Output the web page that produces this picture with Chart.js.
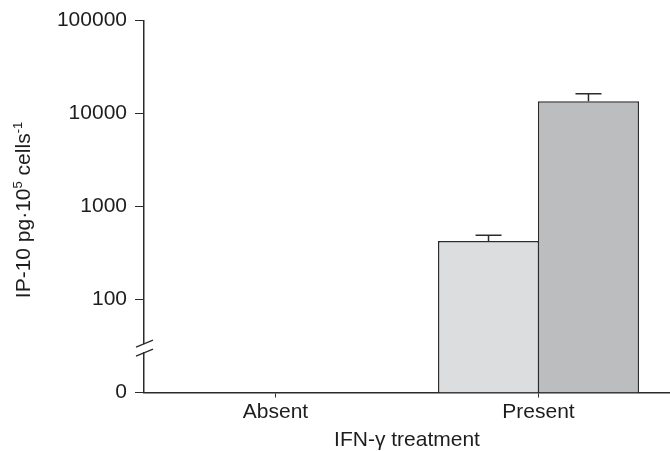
<!DOCTYPE html>
<html>
<head>
<meta charset="utf-8">
<script src="https://cdn.jsdelivr.net/npm/chart.js@4/dist/chart.umd.min.js"></script>
<style>
  html, body { margin: 0; padding: 0; background: #fff; }
  #wrap { width: 670px; height: 451px; position: relative; }
</style>
</head>
<body>
<div id="wrap"><canvas id="chart" width="670" height="451"></canvas></div>
<script>
// Categories and series
const CATEGORIES = ['Absent', 'Present'];
const SERIES_A = [null, 425];      // light bar
const SERIES_B = [null, 13600];    // dark bar
const ERROR_A = [null, 490];       // upper error, light bar
const ERROR_B = [null, 16300];     // upper error, dark bar
const Y_TICKS = [10, 100, 1000, 10000, 100000];
const Y_TICK_LABELS = ['0', '100', '1000', '10000', '100000'];
const BREAK_AT = 30;               // axis break sits between 0 and 100

const FONT = { family: "'Liberation Sans', Arial, sans-serif", size: 21 };
const INK = '#1f1c1d';
const LINE = '#2b2b2b';

// Upper error bars with caps
const errorBars = {
  id: 'errorBars',
  afterDatasetsDraw(chart) {
    const { ctx } = chart;
    const y = chart.scales.y;
    const errs = [ERROR_A, ERROR_B];
    ctx.save();
    ctx.strokeStyle = LINE;
    ctx.lineWidth = 1.5;
    chart.data.datasets.forEach((ds, di) => {
      const meta = chart.getDatasetMeta(di);
      meta.data.forEach((bar, i) => {
        const e = errs[di][i];
        if (e == null || ds.data[i] == null) return;
        const ye = y.getPixelForValue(e);
        ctx.beginPath();
        ctx.moveTo(bar.x, bar.y);
        ctx.lineTo(bar.x, ye);
        ctx.moveTo(bar.x - 13, ye);
        ctx.lineTo(bar.x + 13, ye);
        ctx.stroke();
      });
    });
    ctx.restore();
  }
};

// Axis break marks and the rotated y title with superscripts
const axisExtras = {
  id: 'axisExtras',
  afterDraw(chart) {
    const { ctx, chartArea } = chart;
    const y = chart.scales.y;
    const x0 = chartArea.left;
    const yb = y.getPixelForValue(BREAK_AT);
    ctx.save();
    ctx.fillStyle = '#fff';
    ctx.fillRect(x0 - 2, yb - 4, 4, 8);
    ctx.strokeStyle = LINE;
    ctx.lineWidth = 1.3;
    ctx.beginPath();
    ctx.moveTo(x0 - 8, yb - 1);
    ctx.lineTo(x0 + 9, yb - 8);
    ctx.moveTo(x0 - 8, yb + 8);
    ctx.lineTo(x0 + 9, yb + 1);
    ctx.stroke();

    // y title
    const parts = [
      { t: 'IP-10 pg\u00b710', s: 21, dy: 0 },
      { t: '5', s: 13, dy: -8 },
      { t: ' cells', s: 21, dy: 0 },
      { t: '-1', s: 13, dy: -8 }
    ];
    let total = 0;
    parts.forEach(p => {
      ctx.font = p.s + "px 'Liberation Sans', Arial, sans-serif";
      p.w = ctx.measureText(p.t).width;
      total += p.w;
    });
    ctx.translate(30, 210);
    ctx.rotate(-Math.PI / 2);
    ctx.fillStyle = INK;
    ctx.textBaseline = 'alphabetic';
    ctx.textAlign = 'left';
    let cx = -total / 2;
    parts.forEach(p => {
      ctx.font = p.s + "px 'Liberation Sans', Arial, sans-serif";
      ctx.fillText(p.t, cx, p.dy);
      cx += p.w;
    });
    ctx.restore();
  }
};

new Chart(document.getElementById('chart'), {
  type: 'bar',
  data: {
    labels: CATEGORIES,
    datasets: [
      {
        data: SERIES_A,
        backgroundColor: '#dcdddf',
        borderColor: LINE,
        borderWidth: 1.5,
        borderSkipped: 'bottom',
      },
      {
        data: SERIES_B,
        backgroundColor: '#bcbdbf',
        borderColor: LINE,
        borderWidth: 1.5,
        borderSkipped: 'bottom',
      },
    ],
  },
  options: {
    responsive: false,
    animation: false,
    layout: { padding: { top: 15, right: 0, bottom: 0, left: 0 } },
    datasets: { bar: { categoryPercentage: 0.76, barPercentage: 1.012 } },
    plugins: {
      legend: { display: false },
      tooltip: { enabled: false },
    },
    scales: {
      x: {
        grid: {
          offset: false,
          drawOnChartArea: false,
          drawTicks: true,
          tickLength: 5,
          color: LINE,
        },
        border: { color: LINE, width: 1.5 },
        ticks: { font: FONT, color: INK, padding: 2, maxRotation: 0 },
        title: {
          display: true,
          text: 'IFN-\u03b3 treatment',
          font: { ...FONT, lineHeight: 1.0 },
          color: INK,
          padding: { top: 0, bottom: 0 },
        },
        afterFit(scale) { scale.height = 58.5; },
      },
      y: {
        type: 'logarithmic',
        min: 10,
        max: 100000,
        grid: {
          drawOnChartArea: false,
          drawTicks: true,
          tickLength: 9,
          color: LINE,
        },
        border: { color: LINE, width: 1.5 },
        ticks: {
          font: FONT,
          color: INK,
          padding: 8,
          callback: (v) => {
            const k = Y_TICKS.indexOf(v);
            return k >= 0 ? Y_TICK_LABELS[k] : null;
          },
        },
        afterBuildTicks(scale) {
          scale.ticks = Y_TICKS.map(v => ({ value: v, major: true }));
        },
        afterFit(scale) { scale.width = 144; },
      },
    },
  },
  plugins: [errorBars, axisExtras],
});
</script>
</body>
</html>
